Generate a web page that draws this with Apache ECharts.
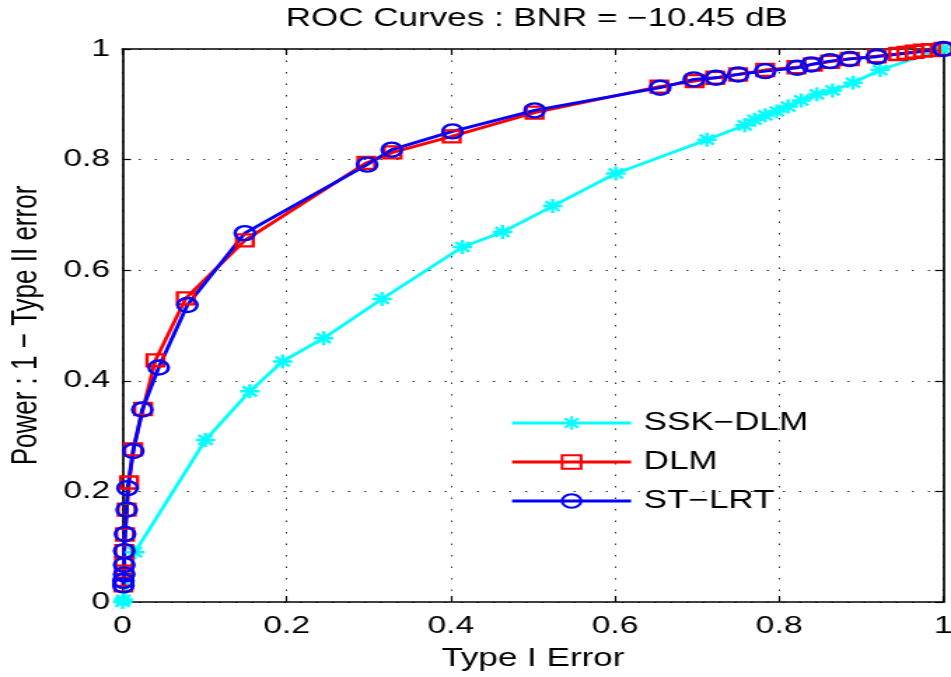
<!DOCTYPE html>
<html>
<head>
<meta charset="utf-8">
<title>ROC Curves</title>
<script src="https://cdn.jsdelivr.net/npm/echarts@6/dist/echarts.min.js"></script>
<style>
  html, body { margin: 0; padding: 0; background: #fff; overflow: hidden; }
  #wrap { width: 951px; height: 677px; overflow: hidden; }
  /* the figure is laid out narrow and widened horizontally */
  #chart { width: 679px; height: 677px; transform: scaleX(1.4006); transform-origin: 0 0; }
</style>
</head>
<body>
<div id="wrap"><div id="chart"></div></div>
<script>
// ---- data ----
const titleText = 'ROC Curves : BNR = \u221210.45 dB';
const xName = 'Type I Error';
const yName = 'Power : 1 \u2212 Type II error';
const xTickLabels = ['0', '0.2', '0.4', '0.6', '0.8', '1'];
const yTickLabels = ['0', '0.2', '0.4', '0.6', '0.8', '1'];
const seriesNames = ['SSK\u2212DLM', 'DLM', 'ST\u2212LRT'];

const sskX = [0, 0.001, 0.015, 0.101, 0.155, 0.195, 0.245, 0.316, 0.414, 0.463, 0.524, 0.601,
  0.712, 0.758, 0.770, 0.783, 0.797, 0.811, 0.827, 0.846, 0.865, 0.890, 0.923, 1];
const sskY = [0, 0.004, 0.090, 0.293, 0.381, 0.435, 0.477, 0.548, 0.642, 0.669, 0.716, 0.775,
  0.836, 0.862, 0.872, 0.880, 0.887, 0.896, 0.907, 0.918, 0.925, 0.939, 0.962, 1];

const dlmX = [0.001, 0.001, 0.002, 0.002, 0.002, 0.003, 0.005, 0.008, 0.013, 0.025, 0.040, 0.077,
  0.149, 0.297, 0.329, 0.401, 0.502, 0.654, 0.697, 0.722, 0.750, 0.783, 0.821, 0.841, 0.862,
  0.886, 0.919, 0.945, 0.955, 0.965, 0.975, 0.985, 1];
const dlmY = [0.030, 0.040, 0.055, 0.070, 0.092, 0.122, 0.167, 0.216, 0.276, 0.349, 0.437, 0.549,
  0.654, 0.794, 0.813, 0.842, 0.885, 0.932, 0.942, 0.948, 0.954, 0.962, 0.967, 0.972, 0.977,
  0.982, 0.987, 0.991, 0.993, 0.995, 0.997, 0.998, 1];

const lrtX = [0.001, 0.001, 0.002, 0.002, 0.002, 0.003, 0.005, 0.006, 0.013, 0.024, 0.044, 0.079,
  0.149, 0.298, 0.328, 0.402, 0.502, 0.655, 0.696, 0.723, 0.750, 0.783, 0.822, 0.839, 0.862,
  0.886, 0.919, 1];
const lrtY = [0.030, 0.038, 0.050, 0.067, 0.092, 0.123, 0.167, 0.206, 0.273, 0.348, 0.424, 0.537,
  0.667, 0.791, 0.818, 0.851, 0.889, 0.930, 0.945, 0.948, 0.954, 0.960, 0.966, 0.972, 0.978,
  0.982, 0.986, 1];

// ---- helpers ----
const pairs = (xs, ys) => xs.map((x, i) => [x, ys[i]]);
const FONT = '"Liberation Sans", Arial, Helvetica, sans-serif';
const STAR = 'path://M0,-10L0,10M-10,0L10,0M-7.1,-7.1L7.1,7.1M-7.1,7.1L7.1,-7.1';

const gridLine = { show: true, lineStyle: { color: '#333', width: 1, type: [1.5, 10] } };
const axisBase = {
  type: 'value', min: 0, max: 1, interval: 0.2,
  axisLine: { show: true, onZero: false, lineStyle: { color: '#000', width: 1.7 } },
  axisTick: { show: true, inside: true, length: 6, lineStyle: { color: '#000', width: 1.2 } }
};

const chart = echarts.init(document.getElementById('chart'), null, { renderer: 'canvas' });
chart.setOption({
  backgroundColor: '#fff',
  animation: false,
  title: {
    text: titleText, left: 199, top: 2,
    textStyle: { fontFamily: FONT, fontSize: 25, fontWeight: 'normal', color: '#000' }
  },
  grid: { left: 87.5, right: 5.5, top: 49, bottom: 75, containLabel: false, outerBoundsMode: 'none' },
  legend: {
    data: seriesNames,
    orient: 'vertical',
    left: 359, top: 404,
    itemWidth: 85, itemHeight: 17, itemGap: 11,
    lineStyle: { width: 3.2 },
    textStyle: { fontFamily: FONT, fontSize: 25, color: '#000', lineHeight: 28, padding: [0, 0, 0, 4] },
    backgroundColor: 'transparent'
  },
  xAxis: [
    Object.assign({}, axisBase, {
      position: 'bottom', name: xName, nameLocation: 'middle', nameGap: 45,
      nameTextStyle: { fontFamily: FONT, fontSize: 25, color: '#000' },
      axisLabel: { margin: 12, fontFamily: FONT, fontSize: 24, color: '#000',
        formatter: v => xTickLabels[Math.round(v / 0.2)] },
      splitLine: gridLine
    }),
    Object.assign({}, axisBase, { position: 'top', axisLabel: { show: false }, splitLine: { show: false } })
  ],
  yAxis: [
    Object.assign({}, axisBase, {
      position: 'left', name: yName, nameLocation: 'middle', nameGap: 56,
      nameTextStyle: { fontFamily: FONT, fontSize: 26, color: '#000' },
      axisLabel: { margin: 9, fontFamily: FONT, fontSize: 24, color: '#000',
        formatter: v => yTickLabels[Math.round(v / 0.2)] },
      splitLine: gridLine
    }),
    Object.assign({}, axisBase, { position: 'right', axisLabel: { show: false }, splitLine: { show: false } })
  ],
  series: [
    {
      name: seriesNames[0], type: 'line', data: pairs(sskX, sskY),
      symbol: STAR, symbolSize: 14, showAllSymbol: true,
      lineStyle: { color: '#00ffff', width: 2.8 },
      itemStyle: { color: '#00ffff', borderColor: '#00ffff', borderWidth: 2.4 }
    },
    {
      name: seriesNames[1], type: 'line', data: pairs(dlmX, dlmY),
      symbol: 'rect', symbolSize: 12, showAllSymbol: true,
      lineStyle: { color: '#ff0000', width: 2.8 },
      itemStyle: { color: 'rgba(255,0,0,0)', borderColor: '#ff0000', borderWidth: 2.4 }
    },
    {
      name: seriesNames[2], type: 'line', data: pairs(lrtX, lrtY),
      symbol: 'circle', symbolSize: 14, showAllSymbol: true,
      lineStyle: { color: '#0000ff', width: 2.8 },
      itemStyle: { color: 'rgba(0,0,255,0)', borderColor: '#0000ff', borderWidth: 2.4 }
    }
  ]
});
</script>
</body>
</html>
